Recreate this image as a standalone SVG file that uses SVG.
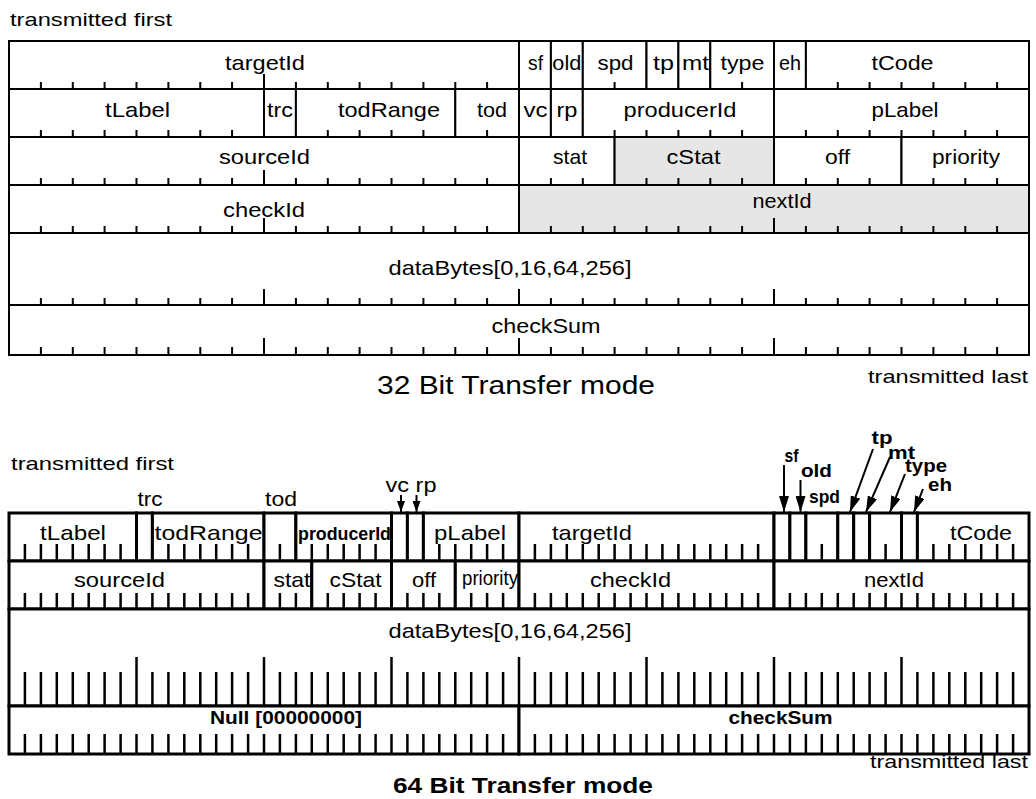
<svg xmlns="http://www.w3.org/2000/svg" width="1036" height="799" viewBox="0 0 1036 799">
<style>
text{font-family:"Liberation Sans",Arial,Helvetica,sans-serif;fill:#000}
.t{font-size:21px;text-anchor:middle}
.tb{font-size:18px;font-weight:bold;text-anchor:middle}
.cap{font-size:19px}
.f2{fill:#fff;stroke:#000;stroke-width:2}
.f3{fill:#fff;stroke:#000;stroke-width:3}
.g{fill:#e6e6e6}
.tk2{stroke:#000;stroke-width:2;fill:none}
.tk3{stroke:#000;stroke-width:2.5;fill:none}
.ar{stroke:#000;stroke-width:2;fill:none}
</style>
<defs>
<marker id="ah" markerUnits="userSpaceOnUse" markerWidth="16" markerHeight="10" refX="16" refY="5" orient="auto"><path d="M0,0L16,5L0,10z" fill="#000"/></marker>
<marker id="ahs" markerUnits="userSpaceOnUse" markerWidth="11" markerHeight="8" refX="11" refY="4" orient="auto"><path d="M0,0L11,4L0,8z" fill="#000"/></marker>
</defs>

<!-- ===== 32 bit transfer mode ===== -->
<text class="cap" x="10" y="26" textLength="162" lengthAdjust="spacingAndGlyphs">transmitted first</text>

<g id="t32-targetId"><rect class="f2" x="9" y="41" width="510" height="48"/><text class="t" x="265" y="70" textLength="80" lengthAdjust="spacingAndGlyphs">targetId</text></g>
<g id="t32-sf"><rect class="f2" x="519" y="41" width="31.9" height="48"/><text class="t" x="535.5" y="70" textLength="15" lengthAdjust="spacingAndGlyphs">sf</text></g>
<g id="t32-old"><rect class="f2" x="550.9" y="41" width="31.9" height="48"/><text class="t" x="566.8" y="70" textLength="29" lengthAdjust="spacingAndGlyphs">old</text></g>
<g id="t32-spd"><rect class="f2" x="582.8" y="41" width="63.7" height="48"/><text class="t" x="615.5" y="70" textLength="36" lengthAdjust="spacingAndGlyphs">spd</text></g>
<g id="t32-tp"><rect class="f2" x="646.5" y="41" width="31.9" height="48"/><text class="t" x="663.5" y="70" textLength="21" lengthAdjust="spacingAndGlyphs">tp</text></g>
<g id="t32-mt"><rect class="f2" x="678.4" y="41" width="31.9" height="48"/><text class="t" x="695.5" y="70" textLength="27" lengthAdjust="spacingAndGlyphs">mt</text></g>
<g id="t32-type"><rect class="f2" x="710.3" y="41" width="63.7" height="48"/><text class="t" x="742.5" y="70" textLength="44" lengthAdjust="spacingAndGlyphs">type</text></g>
<g id="t32-eh"><rect class="f2" x="774" y="41" width="31.9" height="48"/><text class="t" x="790" y="70" textLength="22" lengthAdjust="spacingAndGlyphs">eh</text></g>
<g id="t32-tCode"><rect class="f2" x="805.9" y="41" width="223.1" height="48"/><text class="t" x="902.5" y="70" textLength="62" lengthAdjust="spacingAndGlyphs">tCode</text></g>

<g id="t32-tLabel"><rect class="f2" x="9" y="89" width="255" height="48"/><text class="t" x="137.5" y="117" textLength="65" lengthAdjust="spacingAndGlyphs">tLabel</text></g>
<g id="t32-trc"><rect class="f2" x="264" y="89" width="31.9" height="48"/><text class="t" x="280" y="117" textLength="26" lengthAdjust="spacingAndGlyphs">trc</text></g>
<g id="t32-todRange"><rect class="f2" x="295.9" y="89" width="159.4" height="48"/><text class="t" x="389" y="117" textLength="102" lengthAdjust="spacingAndGlyphs">todRange</text></g>
<g id="t32-tod"><rect class="f2" x="455.3" y="89" width="63.7" height="48"/><text class="t" x="492" y="117" textLength="30" lengthAdjust="spacingAndGlyphs">tod</text></g>
<g id="t32-vc"><rect class="f2" x="519" y="89" width="31.9" height="48"/><text class="t" x="535.5" y="117" textLength="24" lengthAdjust="spacingAndGlyphs">vc</text></g>
<g id="t32-rp"><rect class="f2" x="550.9" y="89" width="31.9" height="48"/><text class="t" x="567" y="117" textLength="21" lengthAdjust="spacingAndGlyphs">rp</text></g>
<g id="t32-producerId"><rect class="f2" x="582.8" y="89" width="191.2" height="48"/><text class="t" x="680" y="117" textLength="113" lengthAdjust="spacingAndGlyphs">producerId</text></g>
<g id="t32-pLabel"><rect class="f2" x="774" y="89" width="255" height="48"/><text class="t" x="905" y="117" textLength="67" lengthAdjust="spacingAndGlyphs">pLabel</text></g>

<g id="t32-sourceId"><rect class="f2" x="9" y="137" width="510" height="48"/><text class="t" x="264.5" y="164" textLength="91" lengthAdjust="spacingAndGlyphs">sourceId</text></g>
<g id="t32-stat"><rect class="f2" x="519" y="137" width="95.6" height="48"/><text class="t" x="570" y="164" textLength="34" lengthAdjust="spacingAndGlyphs">stat</text></g>
<g id="t32-cStat"><rect class="f2 g" x="614.6" y="137" width="159.4" height="48"/><text class="t" x="693.5" y="164" textLength="54" lengthAdjust="spacingAndGlyphs">cStat</text></g>
<g id="t32-off"><rect class="f2" x="774" y="137" width="127.5" height="48"/><text class="t" x="837.5" y="164" textLength="25" lengthAdjust="spacingAndGlyphs">off</text></g>
<g id="t32-priority"><rect class="f2" x="901.5" y="137" width="127.5" height="48"/><text class="t" x="966" y="164" textLength="68" lengthAdjust="spacingAndGlyphs">priority</text></g>

<g id="t32-checkId"><rect class="f2" x="9" y="185" width="510" height="48"/><text class="t" x="264" y="217" textLength="82" lengthAdjust="spacingAndGlyphs">checkId</text></g>
<g id="t32-nextId"><rect class="f2 g" x="519" y="185" width="510" height="48"/><text class="t" x="782" y="208" textLength="59" lengthAdjust="spacingAndGlyphs">nextId</text></g>

<g id="t32-dataBytes"><rect class="f2" x="9" y="233" width="1020" height="72"/><text class="t" x="510" y="275" textLength="243" lengthAdjust="spacingAndGlyphs">dataBytes[0,16,64,256]</text></g>
<g id="t32-checkSum"><rect class="f2" x="9" y="305" width="1020" height="50"/><text class="t" x="546" y="333" textLength="109" lengthAdjust="spacingAndGlyphs">checkSum</text></g>

<g id="t32-ticks" class="tk2">
<path d="M40.9 89v-7M72.8 89v-7M104.6 89v-7M136.5 89v-7M168.4 89v-7M200.3 89v-7M232.1 89v-7M264 89v-15M295.9 89v-7M327.8 89v-7M359.6 89v-7M391.5 89v-7M423.4 89v-7M455.3 89v-7M487.1 89v-7M614.6 89v-7M742.1 89v-7M837.8 89v-7M869.6 89v-7M901.5 89v-7M933.4 89v-7M965.3 89v-7M997.1 89v-7"/>
<path d="M40.9 137v-7M72.8 137v-7M104.6 137v-7M136.5 137v-7M168.4 137v-7M200.3 137v-7M232.1 137v-7M327.8 137v-7M359.6 137v-7M391.5 137v-7M423.4 137v-7M487.1 137v-7M614.6 137v-7M646.5 137v-7M678.4 137v-7M710.3 137v-7M742.1 137v-7M805.9 137v-7M837.8 137v-7M869.6 137v-7M901.5 137v-7M933.4 137v-7M965.3 137v-7M997.1 137v-7"/>
<path d="M40.9 185v-7M72.8 185v-7M104.6 185v-7M136.5 185v-7M168.4 185v-7M200.3 185v-7M232.1 185v-7M264 185v-15M295.9 185v-7M327.8 185v-7M359.6 185v-7M391.5 185v-7M423.4 185v-7M455.3 185v-7M487.1 185v-7M550.9 185v-7M582.8 185v-7M646.5 185v-7M678.4 185v-7M710.3 185v-7M742.1 185v-7M805.9 185v-7M837.8 185v-7M869.6 185v-7M933.4 185v-7M965.3 185v-7M997.1 185v-7"/>
<path d="M40.9 233v-7M72.8 233v-7M104.6 233v-7M136.5 233v-7M168.4 233v-7M200.3 233v-7M232.1 233v-7M264 233v-15M295.9 233v-7M327.8 233v-7M359.6 233v-7M391.5 233v-7M423.4 233v-7M455.3 233v-7M487.1 233v-7M550.9 233v-7M582.8 233v-7M614.6 233v-7M646.5 233v-7M678.4 233v-7M710.3 233v-7M742.1 233v-7M774 233v-15M805.9 233v-7M837.8 233v-7M869.6 233v-7M901.5 233v-7M933.4 233v-7M965.3 233v-7M997.1 233v-7"/>
<path d="M40.9 305v-7M72.8 305v-7M104.6 305v-7M136.5 305v-7M168.4 305v-7M200.3 305v-7M232.1 305v-7M264 305v-16M295.9 305v-7M327.8 305v-7M359.6 305v-7M391.5 305v-7M423.4 305v-7M455.3 305v-7M487.1 305v-7M519 305v-16M550.9 305v-7M582.8 305v-7M614.6 305v-7M646.5 305v-7M678.4 305v-7M710.3 305v-7M742.1 305v-7M774 305v-16M805.9 305v-7M837.8 305v-7M869.6 305v-7M901.5 305v-7M933.4 305v-7M965.3 305v-7M997.1 305v-7"/>
<path d="M40.9 355v-8M72.8 355v-8M104.6 355v-8M136.5 355v-8M168.4 355v-8M200.3 355v-8M232.1 355v-8M264 355v-17M295.9 355v-8M327.8 355v-8M359.6 355v-8M391.5 355v-8M423.4 355v-8M455.3 355v-8M487.1 355v-8M519 355v-17M550.9 355v-8M582.8 355v-8M614.6 355v-8M646.5 355v-8M678.4 355v-8M710.3 355v-8M742.1 355v-8M774 355v-17M805.9 355v-8M837.8 355v-8M869.6 355v-8M901.5 355v-8M933.4 355v-8M965.3 355v-8M997.1 355v-8"/>
</g>

<text class="cap" x="1028" y="383" text-anchor="end" textLength="160" lengthAdjust="spacingAndGlyphs">transmitted last</text>
<text x="516" y="394" font-size="25" text-anchor="middle" textLength="278" lengthAdjust="spacingAndGlyphs">32 Bit Transfer mode</text>

<!-- ===== 64 bit transfer mode ===== -->
<text class="cap" x="11" y="470" textLength="163" lengthAdjust="spacingAndGlyphs">transmitted first</text>
<text class="t" x="150" y="506" textLength="25" lengthAdjust="spacingAndGlyphs">trc</text>
<text class="t" x="281" y="506" textLength="32" lengthAdjust="spacingAndGlyphs">tod</text>
<text class="t" x="411" y="492" textLength="51" lengthAdjust="spacingAndGlyphs">vc rp</text>
<text class="tb" x="791.5" y="461.5" textLength="14" lengthAdjust="spacingAndGlyphs">sf</text>
<text class="tb" x="816.5" y="476.5" textLength="31" lengthAdjust="spacingAndGlyphs">old</text>
<text class="tb" x="824.5" y="503" font-size="16" textLength="31" lengthAdjust="spacingAndGlyphs">spd</text>
<text class="tb" x="882" y="444" textLength="21" lengthAdjust="spacingAndGlyphs">tp</text>
<text class="tb" x="901.5" y="459" textLength="27" lengthAdjust="spacingAndGlyphs">mt</text>
<text class="tb" x="926" y="472" textLength="42" lengthAdjust="spacingAndGlyphs">type</text>
<text class="tb" x="940" y="491" textLength="24" lengthAdjust="spacingAndGlyphs">eh</text>

<g id="t64-tLabel"><rect class="f3" x="9" y="513" width="127.5" height="48"/><text class="t" x="73" y="540" textLength="66" lengthAdjust="spacingAndGlyphs">tLabel</text></g>
<g id="t64-trc"><rect class="f3" x="136.5" y="513" width="15.9" height="48"/></g>
<g id="t64-todRange"><rect class="f3" x="152.4" y="513" width="111.6" height="48"/><text class="t" x="208.5" y="540" textLength="108" lengthAdjust="spacingAndGlyphs">todRange</text></g>
<g id="t64-tod"><rect class="f3" x="264" y="513" width="31.9" height="48"/></g>
<g id="t64-producerId"><rect class="f3" x="295.9" y="513" width="95.6" height="48"/><text class="tb" x="344.5" y="540" font-size="16" textLength="93" lengthAdjust="spacingAndGlyphs">producerId</text></g>
<g id="t64-vc"><rect class="f3" x="391.5" y="513" width="15.9" height="48"/></g>
<g id="t64-rp"><rect class="f3" x="407.4" y="513" width="16" height="48"/></g>
<g id="t64-pLabel"><rect class="f3" x="423.4" y="513" width="95.6" height="48"/><text class="t" x="470" y="540" textLength="72" lengthAdjust="spacingAndGlyphs">pLabel</text></g>
<g id="t64-targetId"><rect class="f3" x="519" y="513" width="255" height="48"/><text class="t" x="592" y="540" textLength="80" lengthAdjust="spacingAndGlyphs">targetId</text></g>
<g id="t64-sf"><rect class="f3" x="774" y="513" width="15.9" height="48"/></g>
<g id="t64-old"><rect class="f3" x="789.9" y="513" width="16" height="48"/></g>
<g id="t64-spd"><rect class="f3" x="805.9" y="513" width="31.9" height="48"/></g>
<g id="t64-tp"><rect class="f3" x="837.8" y="513" width="15.9" height="48"/></g>
<g id="t64-mt"><rect class="f3" x="853.7" y="513" width="15.9" height="48"/></g>
<g id="t64-type"><rect class="f3" x="869.6" y="513" width="31.9" height="48"/></g>
<g id="t64-eh"><rect class="f3" x="901.5" y="513" width="15.9" height="48"/></g>
<g id="t64-tCode"><rect class="f3" x="917.4" y="513" width="111.6" height="48"/><text class="t" x="981" y="540" textLength="62" lengthAdjust="spacingAndGlyphs">tCode</text></g>

<g id="t64-sourceId"><rect class="f3" x="9" y="561" width="255" height="48"/><text class="t" x="119.5" y="587" textLength="91" lengthAdjust="spacingAndGlyphs">sourceId</text></g>
<g id="t64-stat"><rect class="f3" x="264" y="561" width="47.8" height="48"/><text class="t" x="292" y="587" textLength="37" lengthAdjust="spacingAndGlyphs">stat</text></g>
<g id="t64-cStat"><rect class="f3" x="311.8" y="561" width="79.7" height="48"/><text class="t" x="355.5" y="587" textLength="52" lengthAdjust="spacingAndGlyphs">cStat</text></g>
<g id="t64-off"><rect class="f3" x="391.5" y="561" width="63.8" height="48"/><text class="t" x="424" y="587" textLength="24" lengthAdjust="spacingAndGlyphs">off</text></g>
<g id="t64-priority"><rect class="f3" x="455.3" y="561" width="63.7" height="48"/><text class="t" x="490" y="585" font-size="15" textLength="56" lengthAdjust="spacingAndGlyphs">priority</text></g>
<g id="t64-checkId"><rect class="f3" x="519" y="561" width="255" height="48"/><text class="t" x="630.5" y="587" textLength="81" lengthAdjust="spacingAndGlyphs">checkId</text></g>
<g id="t64-nextId"><rect class="f3" x="774" y="561" width="255" height="48"/><text class="t" x="894" y="587" textLength="60" lengthAdjust="spacingAndGlyphs">nextId</text></g>

<g id="t64-dataBytes"><rect class="f3" x="9" y="609" width="1020" height="97"/><text class="t" x="510" y="638" textLength="243" lengthAdjust="spacingAndGlyphs">dataBytes[0,16,64,256]</text></g>
<g id="t64-null"><rect class="f3" x="9" y="706" width="510" height="48"/><text class="tb" x="286" y="724" font-size="18" textLength="152" lengthAdjust="spacingAndGlyphs">Null [00000000]</text></g>
<g id="t64-checkSum"><rect class="f3" x="519" y="706" width="510" height="48"/><text class="tb" x="780.5" y="724" font-size="18" textLength="104" lengthAdjust="spacingAndGlyphs">checkSum</text></g>

<g id="t64-ticks" class="tk3">
<path d="M24.9 561v-17M40.9 561v-17M56.8 561v-17M72.8 561v-17M88.7 561v-17M104.6 561v-17M120.6 561v-17M168.4 561v-17M184.3 561v-17M200.3 561v-17M216.2 561v-17M232.1 561v-17M248.1 561v-17M279.9 561v-17M311.8 561v-17M327.8 561v-17M343.7 561v-17M359.6 561v-17M375.6 561v-17M439.3 561v-17M455.3 561v-17M471.2 561v-17M487.1 561v-17M503.1 561v-17M534.9 561v-17M550.9 561v-17M566.8 561v-17M582.8 561v-17M598.7 561v-17M614.6 561v-17M630.6 561v-17M646.5 561v-17M662.4 561v-17M678.4 561v-17M694.3 561v-17M710.3 561v-17M726.2 561v-17M742.1 561v-17M758.1 561v-17M821.8 561v-17M885.6 561v-17M933.4 561v-17M949.3 561v-17M965.3 561v-17M981.2 561v-17M997.1 561v-17M1013.1 561v-17"/>
<path d="M24.9 609v-16M40.9 609v-16M56.8 609v-16M72.8 609v-16M88.7 609v-16M104.6 609v-16M120.6 609v-16M136.5 609v-16M152.4 609v-16M168.4 609v-16M184.3 609v-16M200.3 609v-16M216.2 609v-16M232.1 609v-16M248.1 609v-16M279.9 609v-16M295.9 609v-16M327.8 609v-16M343.7 609v-16M359.6 609v-16M375.6 609v-16M407.4 609v-16M423.4 609v-16M439.3 609v-16M471.2 609v-16M487.1 609v-16M503.1 609v-16M534.9 609v-16M550.9 609v-16M566.8 609v-16M582.8 609v-16M598.7 609v-16M614.6 609v-16M630.6 609v-16M646.5 609v-16M662.4 609v-16M678.4 609v-16M694.3 609v-16M710.3 609v-16M726.2 609v-16M742.1 609v-16M758.1 609v-16M789.9 609v-16M805.9 609v-16M821.8 609v-16M837.8 609v-16M853.7 609v-16M869.6 609v-16M885.6 609v-16M901.5 609v-16M917.4 609v-16M933.4 609v-16M949.3 609v-16M965.3 609v-16M981.2 609v-16M997.1 609v-16M1013.1 609v-16"/>
<path d="M24.9 706v-34M40.9 706v-34M56.8 706v-34M72.8 706v-34M88.7 706v-34M104.6 706v-34M120.6 706v-34M136.5 706v-49M152.4 706v-34M168.4 706v-34M184.3 706v-34M200.3 706v-34M216.2 706v-34M232.1 706v-34M248.1 706v-34M264 706v-49M279.9 706v-34M295.9 706v-34M311.8 706v-34M327.8 706v-34M343.7 706v-34M359.6 706v-34M375.6 706v-34M391.5 706v-49M407.4 706v-34M423.4 706v-34M439.3 706v-34M455.3 706v-34M471.2 706v-34M487.1 706v-34M503.1 706v-34M519 706v-49M534.9 706v-34M550.9 706v-34M566.8 706v-34M582.8 706v-34M598.7 706v-34M614.6 706v-34M630.6 706v-34M646.5 706v-49M662.4 706v-34M678.4 706v-34M694.3 706v-34M710.3 706v-34M726.2 706v-34M742.1 706v-34M758.1 706v-34M774 706v-49M789.9 706v-34M805.9 706v-34M821.8 706v-34M837.8 706v-34M853.7 706v-34M869.6 706v-34M885.6 706v-34M901.5 706v-49M917.4 706v-34M933.4 706v-34M949.3 706v-34M965.3 706v-34M981.2 706v-34M997.1 706v-34M1013.1 706v-34"/>
<path d="M24.9 754v-20M40.9 754v-20M56.8 754v-20M72.8 754v-20M88.7 754v-20M104.6 754v-20M120.6 754v-20M136.5 754v-20M152.4 754v-20M168.4 754v-20M184.3 754v-20M200.3 754v-20M216.2 754v-20M232.1 754v-20M248.1 754v-20M264 754v-20M279.9 754v-20M295.9 754v-20M311.8 754v-20M327.8 754v-20M343.7 754v-20M359.6 754v-20M375.6 754v-20M391.5 754v-20M407.4 754v-20M423.4 754v-20M439.3 754v-20M455.3 754v-20M471.2 754v-20M487.1 754v-20M503.1 754v-20M534.9 754v-20M550.9 754v-20M566.8 754v-20M582.8 754v-20M598.7 754v-20M614.6 754v-20M630.6 754v-20M646.5 754v-20M662.4 754v-20M678.4 754v-20M694.3 754v-20M710.3 754v-20M726.2 754v-20M742.1 754v-20M758.1 754v-20M774 754v-20M789.9 754v-20M805.9 754v-20M821.8 754v-20M837.8 754v-20M853.7 754v-20M869.6 754v-20M885.6 754v-20M901.5 754v-20M917.4 754v-20M933.4 754v-20M949.3 754v-20M965.3 754v-20M981.2 754v-20M997.1 754v-20M1013.1 754v-20"/>
</g>

<g id="connectors" class="ar">
<line x1="401" y1="495" x2="401" y2="512" marker-end="url(#ahs)"/>
<line x1="416.5" y1="495" x2="416.5" y2="512" marker-end="url(#ahs)"/>
<line x1="784" y1="465" x2="784" y2="512" marker-end="url(#ah)"/>
<line x1="800.5" y1="480" x2="800.5" y2="512" marker-end="url(#ah)"/>
<line x1="873" y1="449" x2="850" y2="512" marker-end="url(#ah)"/>
<line x1="890" y1="457" x2="866" y2="512" marker-end="url(#ah)"/>
<line x1="905" y1="474" x2="890" y2="512" marker-end="url(#ah)"/>
<line x1="923" y1="489" x2="914" y2="512" marker-end="url(#ah)"/>
</g>

<text class="cap" x="1028" y="768" text-anchor="end" textLength="158" lengthAdjust="spacingAndGlyphs">transmitted last</text>
<text x="523" y="793" font-size="22" font-weight="bold" text-anchor="middle" textLength="260" lengthAdjust="spacingAndGlyphs">64 Bit Transfer mode</text>
</svg>
